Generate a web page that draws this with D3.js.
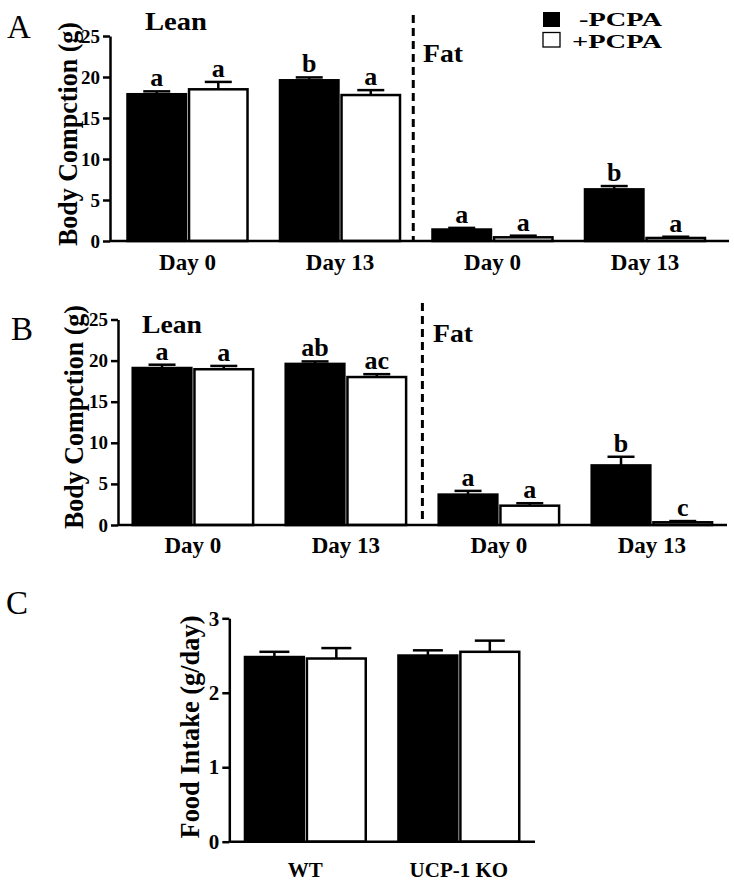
<!DOCTYPE html>
<html><head><meta charset="utf-8">
<script src="https://cdn.jsdelivr.net/npm/d3@7"></script>
<style>
body{margin:0;background:#fff}
svg{display:block}
text{font-family:"Liberation Serif","Times New Roman","DejaVu Serif",serif;fill:#000}
</style>
</head><body>
<svg id="c" width="734" height="883"></svg>
<script>
// ---------- data ----------
const series = ["-PCPA", "+PCPA"];
const groupsAB = ["Lean Day 0", "Lean Day 13", "Fat Day 0", "Fat Day 13"];
const groupLabelsAB = ["Day 0", "Day 13", "Day 0", "Day 13"];
const ticksAB = [0, 5, 10, 15, 20, 25];

const aMinus    = [17.9, 19.6, 1.4, 6.3];
const aMinusErr = [0.35, 0.35, 0.2, 0.4];
const aPlus     = [18.5, 17.8, 0.45, 0.37];
const aPlusErr  = [0.9, 0.6, 0.2, 0.15];
const aMinusSig = ["a", "b", "a", "b"];
const aPlusSig  = ["a", "a", "a", "a"];

const bMinus    = [19.1, 19.6, 3.7, 7.25];
const bMinusErr = [0.4, 0.3, 0.45, 1.05];
const bPlus     = [18.95, 18.0, 2.35, 0.33];
const bPlusErr  = [0.4, 0.35, 0.3, 0.15];
const bMinusSig = ["a", "ab", "a", "b"];
const bPlusSig  = ["a", "ac", "a", "c"];

const groupsC = ["WT", "UCP-1 KO"];
const ticksC = [0, 1, 2, 3];
const cMinus    = [2.48, 2.5];
const cMinusErr = [0.07, 0.07];
const cPlus     = [2.46, 2.55];
const cPlusErr  = [0.14, 0.15];

// ---------- drawing ----------
const svg = d3.select("#c");
const fills = {"-PCPA": "#000", "+PCPA": "#fff"};

function drawPanel(o) {
  const g = svg.append("g");
  const y = d3.scaleLinear().domain([0, o.yMax]).range(o.yRange);
  const x0 = d3.scaleBand().domain(o.groups).range(o.xRange)
    .paddingInner(0.213).paddingOuter(0.1066);
  const x1 = d3.scaleBand().domain(series).range([0, x0.bandwidth()]).paddingInner(0.05);
  const bw = x1.bandwidth();

  const rows = o.groups.map((grp, i) => ({
    grp, label: o.labels[i],
    vals: [
      {s: series[0], v: o.minus[i], e: o.minusErr[i], sig: o.minusSig ? o.minusSig[i] : null},
      {s: series[1], v: o.plus[i], e: o.plusErr[i], sig: o.plusSig ? o.plusSig[i] : null}
    ]
  }));

  const gg = g.selectAll("g.grp").data(rows).join("g").attr("class", "grp")
    .attr("transform", d => `translate(${x0(d.grp)},0)`);

  // error bars
  gg.selectAll("line.ev").data(d => d.vals).join("line").attr("class", "ev")
    .attr("x1", d => x1(d.s) + bw / 2).attr("x2", d => x1(d.s) + bw / 2)
    .attr("y1", d => y(d.v)).attr("y2", d => y(d.v + d.e))
    .attr("stroke", "#000").attr("stroke-width", 2.5);
  gg.selectAll("line.ec").data(d => d.vals).join("line").attr("class", "ec")
    .attr("x1", d => x1(d.s) + bw / 2 - o.capW / 2).attr("x2", d => x1(d.s) + bw / 2 + o.capW / 2)
    .attr("y1", d => y(d.v + d.e)).attr("y2", d => y(d.v + d.e))
    .attr("stroke", "#000").attr("stroke-width", 2.5);

  // bars
  gg.selectAll("rect").data(d => d.vals).join("rect")
    .attr("x", d => x1(d.s)).attr("width", bw)
    .attr("y", d => y(d.v)).attr("height", d => y(0) - y(d.v))
    .attr("fill", d => fills[d.s]).attr("stroke", "#000").attr("stroke-width", 2.5);

  // significance letters
  gg.selectAll("text.sig").data(d => d.vals.filter(v => v.sig)).join("text").attr("class", "sig")
    .attr("x", d => x1(d.s) + bw / 2).attr("y", d => y(d.v + d.e) - 5)
    .attr("text-anchor", "middle").attr("font-weight", "bold").attr("font-size", 26)
    .text(d => d.sig);

  // y axis
  const ax = g.append("g").attr("transform", `translate(${o.axisX},0)`)
    .call(d3.axisLeft(y).tickValues(o.ticks).tickFormat(d3.format("d"))
      .tickSize(7).tickSizeOuter(0).tickPadding(3));
  ax.attr("font-family", null);
  ax.select(".domain").attr("stroke", "#000").attr("stroke-width", 2.5);
  ax.selectAll(".tick line").attr("stroke", "#000").attr("stroke-width", 2.5);
  ax.selectAll(".tick text").attr("font-weight", "bold")
    .attr("font-size", o.tickFont).attr("fill", "#000");

  // x baseline
  g.append("line").attr("x1", o.axisX).attr("x2", o.axisEnd).attr("y1", y(0)).attr("y2", y(0))
    .attr("stroke", "#000").attr("stroke-width", 2.5);

  // group labels
  g.selectAll("text.gl").data(rows).join("text").attr("class", "gl")
    .attr("x", d => x0(d.grp) + x0.bandwidth() / 2).attr("y", o.labelY)
    .attr("text-anchor", "middle").attr("font-weight", "bold").attr("font-size", o.labelFont)
    .text(d => d.label);

  // y title
  g.append("text")
    .attr("transform", `translate(${o.titleX},${o.titleCY}) rotate(-90)`)
    .attr("text-anchor", "middle").attr("font-weight", "bold").attr("font-size", o.titleFont)
    .attr("textLength", o.titleLen).attr("lengthAdjust", "spacingAndGlyphs")
    .text(o.title);

  // panel letter
  g.append("text").attr("x", o.letterX).attr("y", o.letterY).attr("font-size", 33).text(o.letter);

  // dashed separator
  if (o.dash) {
    const xs = (x0(o.groups[1]) + x0.bandwidth() + x0(o.groups[2])) / 2 + o.dash.dx;
    g.append("line").attr("x1", xs).attr("x2", xs).attr("y1", o.dash.y1).attr("y2", y(0))
      .attr("stroke", "#000").attr("stroke-width", 3).attr("stroke-dasharray", "8,5");
  }
  return {g, x0, y};
}

function sectionText(g, t, x, yv, len) {
  g.append("text").attr("x", x).attr("y", yv).attr("font-weight", "bold").attr("font-size", 26)
    .attr("textLength", len).attr("lengthAdjust", "spacingAndGlyphs").text(t);
}

// Panel A
const pA = drawPanel({
  groups: groupsAB, labels: groupLabelsAB, minus: aMinus, minusErr: aMinusErr, plus: aPlus, plusErr: aPlusErr,
  minusSig: aMinusSig, plusSig: aPlusSig, yMax: 25, ticks: ticksAB,
  yRange: [241, 36], xRange: [111.25, 721.25], axisX: 110, axisEnd: 729, capW: 27,
  tickFont: 19, labelY: 270, labelFont: 23, title: "Body Compction (g)", titleX: 77, titleCY: 134,
  titleLen: 224, titleFont: 28, letter: "A", letterX: 7, letterY: 38, dash: {dx: -3, y1: 15}
});
sectionText(pA.g, "Lean", 145, 30, 62);
sectionText(pA.g, "Fat", 423, 62, 40);

// legend
const lg = pA.g.append("g");
lg.append("rect").attr("x", 543).attr("y", 12).attr("width", 17).attr("height", 15).attr("fill", "#000");
lg.append("rect").attr("x", 543).attr("y", 32.5).attr("width", 17).attr("height", 14.5)
  .attr("fill", "#fff").attr("stroke", "#000").attr("stroke-width", 1.3);
lg.append("text").attr("x", 579).attr("y", 26).attr("font-weight", "bold").attr("font-size", 19)
  .attr("textLength", 83).attr("lengthAdjust", "spacingAndGlyphs").text(series[0]);
lg.append("text").attr("x", 572).attr("y", 48).attr("font-weight", "bold").attr("font-size", 19)
  .attr("textLength", 90).attr("lengthAdjust", "spacingAndGlyphs").text(series[1]);

// Panel B
const pB = drawPanel({
  groups: groupsAB, labels: groupLabelsAB, minus: bMinus, minusErr: bMinusErr, plus: bPlus, plusErr: bPlusErr,
  minusSig: bMinusSig, plusSig: bPlusSig, yMax: 25, ticks: ticksAB,
  yRange: [525, 319.5], xRange: [116.4, 728.4], axisX: 118, axisEnd: 727, capW: 27,
  tickFont: 19, labelY: 553, labelFont: 23, title: "Body Compction (g)", titleX: 83, titleCY: 417,
  titleLen: 224, titleFont: 28, letter: "B", letterX: 11, letterY: 340, dash: {dx: 0, y1: 303}
});
sectionText(pB.g, "Lean", 142, 333, 60);
sectionText(pB.g, "Fat", 433, 342, 40);

// Panel C
drawPanel({
  groups: groupsC, labels: groupsC, minus: cMinus, minusErr: cMinusErr, plus: cPlus, plusErr: cPlusErr,
  minusSig: null, plusSig: null, yMax: 3, ticks: ticksC,
  yRange: [841.7, 618.3], xRange: [228.6, 535.6], axisX: 229.3, axisEnd: 535, capW: 30,
  tickFont: 21, labelY: 877, labelFont: 21, title: "Food Intake (g/day)", titleX: 199, titleCY: 727,
  titleLen: 223, titleFont: 27, letter: "C", letterX: 6, letterY: 614, dash: null
});
</script>
</body></html>
